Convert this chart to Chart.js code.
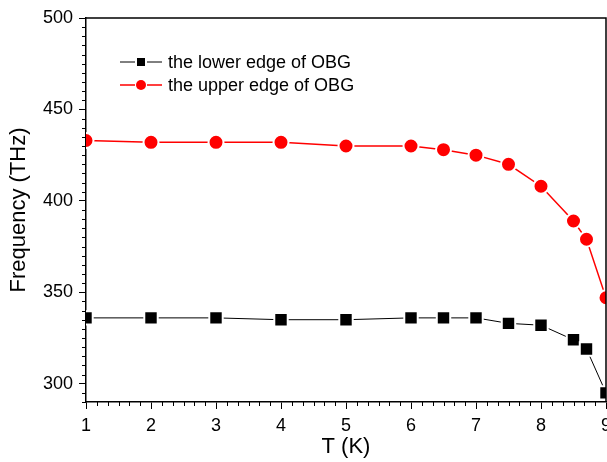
<!DOCTYPE html>
<html>
<head>
<meta charset="utf-8">
<script src="https://cdn.jsdelivr.net/npm/chart.js@4/dist/chart.umd.min.js"></script>
<style>
  html, body { margin: 0; padding: 0; background: #fff; }
  #wrap { width: 607px; height: 462px; }
</style>
</head>
<body>
<div id="wrap"><canvas id="c" width="607" height="462"></canvas></div>
<script>
// Data
const temps = [1, 2, 3, 4, 5, 6, 6.5, 7, 7.5, 8, 8.5, 8.7, 9];
const lowerEdge = [336, 336, 336, 335, 335, 336, 336, 336, 333, 332, 324, 319, 295];
const upperEdge = [433, 432, 432, 432, 430, 430, 428, 425, 420, 408, 389, 379, 347];
const xTicks = [1, 2, 3, 4, 5, 6, 7, 8, 9];
const yTicks = [300, 350, 400, 450, 500];
const seriesNames = ['the lower edge of OBG', 'the upper edge of OBG'];

const FONT = 'Arial, "Liberation Sans", sans-serif';

const toXY = (ys) => ys.map((v, i) => ({ x: temps[i], y: v }));

// Frame (top/right), minor ticks and the line-marker-line legend
const decor = {
  id: 'decor',
  afterDraw(chart) {
    const { ctx, chartArea: a, scales: { x, y } } = chart;
    ctx.save();
    ctx.strokeStyle = '#000';
    ctx.lineWidth = 1.5;
    ctx.beginPath();
    ctx.moveTo(a.left, a.top);
    ctx.lineTo(a.right, a.top);
    ctx.lineTo(a.right, a.bottom);
    ctx.stroke();

    // minor ticks
    ctx.lineWidth = 1;
    ctx.beginPath();
    for (let v = 290; v <= 500; v += 5) {
      if (v % 50 === 0) continue;
      const py = Math.round(y.getPixelForValue(v)) + 0.5;
      ctx.moveTo(a.left - 4, py);
      ctx.lineTo(a.left, py);
    }
    for (let k = 6; k < 54; k++) {
      if (k % 6 === 0) continue;
      const px = Math.round(x.getPixelForValue(k / 6)) + 0.5;
      ctx.moveTo(px, a.bottom);
      ctx.lineTo(px, a.bottom + 4);
    }
    ctx.stroke();

    // legend
    const rows = [
      { y: 62, color: '#000', shape: 'square' },
      { y: 85, color: '#ff0000', shape: 'circle' }
    ];
    ctx.font = '18px ' + FONT;
    ctx.textBaseline = 'middle';
    rows.forEach((r, i) => {
      ctx.strokeStyle = r.color;
      ctx.fillStyle = r.color;
      ctx.lineWidth = i === 0 ? 1 : 1.5;
      ctx.beginPath();
      ctx.moveTo(120, r.y); ctx.lineTo(135, r.y);
      ctx.moveTo(147, r.y); ctx.lineTo(162, r.y);
      ctx.stroke();
      if (r.shape === 'square') {
        ctx.fillRect(137, r.y - 4, 8, 8);
      } else {
        ctx.beginPath();
        ctx.arc(141, r.y, 5, 0, Math.PI * 2);
        ctx.fill();
      }
      ctx.fillStyle = '#000';
      ctx.fillText(seriesNames[i], 168, r.y + 1);
    });
    ctx.restore();
  }
};

new Chart(document.getElementById('c'), {
  type: 'line',
  data: {
    datasets: [
      {
        label: seriesNames[0],
        data: toXY(lowerEdge),
        borderColor: '#000',
        backgroundColor: '#000',
        borderWidth: 1,
        pointStyle: 'rect',
        pointRadius: 9.5,
        pointBorderColor: '#fff',
        pointBorderWidth: 2,
        pointBackgroundColor: '#000',
        tension: 0,
        clip: 0
      },
      {
        label: seriesNames[1],
        data: toXY(upperEdge),
        borderColor: '#ff0000',
        backgroundColor: '#ff0000',
        borderWidth: 1.5,
        pointStyle: 'circle',
        pointRadius: 7.5,
        pointBorderColor: '#fff',
        pointBorderWidth: 2,
        pointBackgroundColor: '#ff0000',
        tension: 0,
        clip: 0
      }
    ]
  },
  options: {
    responsive: false,
    animation: false,
    devicePixelRatio: 1,
    layout: { autoPadding: false, padding: { top: 18, right: 1, left: 0, bottom: 0 } },
    plugins: {
      legend: { display: false },
      tooltip: { enabled: false }
    },
    scales: {
      x: {
        type: 'linear',
        min: 1,
        max: 9,
        afterBuildTicks: (s) => { s.ticks = xTicks.map(v => ({ value: v })); },
        afterFit: (s) => {
          s.height = 60;
          s.paddingRight = 0;
          s.paddingLeft = 0;
        },
        border: { color: '#000', width: 1.5 },
        grid: { drawOnChartArea: false, drawTicks: true, tickLength: 7, color: '#000', tickWidth: 1 },
        ticks: { color: '#000', font: { family: FONT, size: 18 }, padding: 6, maxRotation: 0 },
        title: { display: true, text: 'T (K)', color: '#000', font: { family: FONT, size: 22 }, padding: { top: 0, bottom: 2 } }
      },
      y: {
        min: 290,
        max: 500,
        afterBuildTicks: (s) => { s.ticks = yTicks.map(v => ({ value: v })); },
        afterFit: (s) => { s.width = 86; },
        border: { color: '#000', width: 1.5 },
        grid: { drawOnChartArea: false, drawTicks: true, tickLength: 7, color: '#000', tickWidth: 1 },
        ticks: { color: '#000', font: { family: FONT, size: 18 }, padding: 6 },
        title: { display: true, text: 'Frequency (THz)', color: '#000', font: { family: FONT, size: 22 }, padding: { top: 6, bottom: 0 } }
      }
    }
  },
  plugins: [decor]
});
</script>
</body>
</html>
